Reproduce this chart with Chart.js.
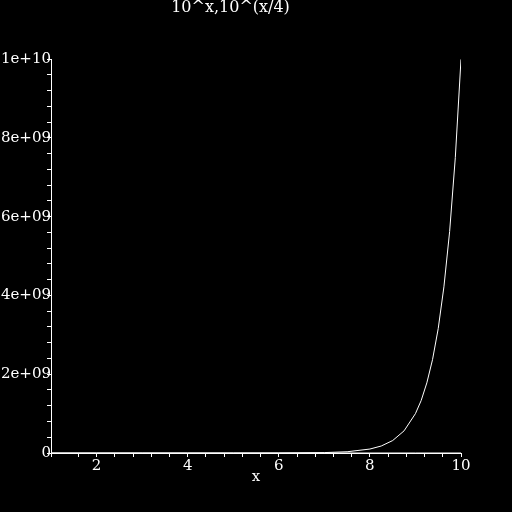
<!DOCTYPE html>
<html>
<head>
<meta charset="utf-8">
<script src="https://cdn.jsdelivr.net/npm/chart.js@4"></script>
<style>
  html, body { margin: 0; padding: 0; background: #000; }
  canvas { display: block; background: #000; }
</style>
</head>
<body>
<canvas id="plot" width="512" height="512"></canvas>
<script>
// values
const xsA = [1, 2, 3, 4, 5, 6, 7, 7.5, 8, 8.25, 8.5, 8.75, 9, 9.125, 9.25, 9.375, 9.5, 9.625, 9.75, 9.875, 10];
const ysA = [10, 100, 1000, 1e4, 1e5, 1e6, 1e7, 3.16e7, 1e8, 1.78e8, 3.16e8, 5.62e8, 1e9, 1.33e9, 1.78e9, 2.37e9, 3.16e9, 4.22e9, 5.62e9, 7.5e9, 1e10];
const xsB = [1, 2, 3, 4, 5, 6, 7, 8, 9, 10];
const ysB = [1.78, 3.16, 5.62, 10, 17.8, 31.6, 56.2, 100, 178, 316];
const xMajor = [2, 4, 6, 8, 10];
const yMajor = [0, 2e9, 4e9, 6e9, 8e9, 1e10];
const yLabels = ['0', '2e+09', '4e+09', '6e+09', '8e+09', '1e+10'];

const serif = "'DejaVu Serif', 'Liberation Serif', serif";

const pts = (xs, ys) => xs.map((x, i) => ({ x: x, y: ys[i] }));

new Chart(document.getElementById('plot').getContext('2d'), {
    type: 'scatter',
    data: {
        datasets: [
            { data: pts(xsA, ysA), showLine: true, borderColor: '#fff', borderWidth: 1, pointRadius: 0, tension: 0 },
            { data: pts(xsB, ysB), showLine: true, borderColor: '#fff', borderWidth: 1, pointRadius: 0, tension: 0 }
        ]
    },
    options: {
        responsive: false,
        animation: false,
        layout: { padding: { right: 51, left: 0, top: 0, bottom: 0 } },
        plugins: {
            legend: { display: false },
            tooltip: { enabled: false },
            title: {
                display: true,
                text: '10^x,10^(x/4)',
                color: '#fff',
                font: { family: serif, size: 16, weight: 'normal' },
                padding: { top: -2, bottom: 42 }
            }
        },
        scales: {
            x: {
                type: 'linear',
                min: 1,
                max: 10,
                afterFit: s => { s.height = 59; },
                border: { color: '#fff', width: 1 },
                grid: { drawOnChartArea: false, drawTicks: true, tickLength: 4, color: '#fff' },
                ticks: {
                    stepSize: 0.4,
                    autoSkip: false,
                    maxRotation: 0,
                    padding: 0,
                    color: '#fff',
                    font: { family: serif, size: 15 },
                    callback: v => {
                        const r = Math.round(v);
                        return (Math.abs(v - r) < 1e-6 && xMajor.includes(r)) ? String(r) : '';
                    }
                },
                title: {
                    display: true,
                    text: 'x',
                    color: '#fff',
                    font: { family: serif, size: 15 },
                    padding: { top: 0, bottom: 26 }
                }
            },
            y: {
                type: 'linear',
                min: 0,
                max: 1e10,
                afterFit: s => { s.width = 51; },
                border: { color: '#fff', width: 1 },
                grid: { drawOnChartArea: false, drawTicks: true, tickLength: 4, color: '#fff' },
                ticks: {
                    stepSize: 4e8,
                    autoSkip: false,
                    padding: -4,
                    color: '#fff',
                    font: { family: serif, size: 15 },
                    callback: v => {
                        const i = yMajor.findIndex(m => Math.abs(m - v) < 1);
                        return i >= 0 ? yLabels[i] : '';
                    }
                }
            }
        }
    }
});
</script>
</body>
</html>
